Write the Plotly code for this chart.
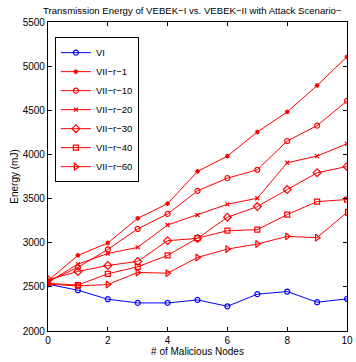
import plotly.graph_objects as go

nodes = [0, 1, 2, 3, 4, 5, 6, 7, 8, 9, 10]

vi = [2530, 2462, 2360, 2318, 2318, 2352, 2280, 2417, 2447, 2326, 2364]
vii_r1 = [2570, 2856, 2997, 3276, 3443, 3807, 3981, 4254, 4481, 4781, 5106]
vii_r10 = [2560, 2720, 2924, 3156, 3326, 3587, 3731, 3826, 4152, 4326, 4606]
vii_r20 = [2550, 2758, 2878, 2947, 3201, 3314, 3435, 3504, 3906, 3981, 4121]
vii_r30 = [2580, 2674, 2742, 2788, 3023, 3049, 3288, 3409, 3602, 3792, 3864]
vii_r40 = [2540, 2520, 2648, 2727, 2856, 3052, 3136, 3148, 3318, 3466, 3489]
vii_r60 = [2530, 2511, 2526, 2663, 2655, 2833, 2928, 2985, 3072, 3057, 3344]

series = [
    ("VI", vi, "#0000ff", "circle-open", 5),
    ("VII\u2212r\u22121", vii_r1, "#ff0000", "asterisk-open", 4),
    ("VII\u2212r\u221210", vii_r10, "#ff0000", "circle-open", 5),
    ("VII\u2212r\u221220", vii_r20, "#ff0000", "x-thin-open", 4),
    ("VII\u2212r\u221230", vii_r30, "#ff0000", "diamond-open", 6),
    ("VII\u2212r\u221240", vii_r40, "#ff0000", "square-open", 5),
    ("VII\u2212r\u221260", vii_r60, "#ff0000", "triangle-right-open", 6),
]

font = "Liberation Sans, Arial, Helvetica, sans-serif"

fig = go.Figure()
for name, vals, color, sym, size in series:
    fig.add_trace(go.Scatter(
        x=nodes, y=vals, name=name, mode="lines+markers",
        line=dict(color=color, width=1),
        marker=dict(symbol=sym, size=size, color=color,
                    line=dict(color=color, width=1.2)),
    ))

axis_common = dict(
    showline=True, linecolor="black", linewidth=1.2, mirror="ticks",
    ticks="inside", ticklen=4, tickcolor="black", showgrid=False,
    zeroline=False, ticklabeloverflow="allow",
    tickfont=dict(family=font, size=10, color="black"),
)

fig.update_layout(
    width=356, height=362,
    margin=dict(l=48, r=3, t=22, b=31),
    paper_bgcolor="white", plot_bgcolor="white",
    font=dict(family=font, size=10, color="black"),
    title=dict(
        text="Transmission Energy of VEBEK\u2212I vs. VEBEK\u2212II with Attack Scenario\u2212",
        x=43 / 356, xanchor="left", xref="container",
        y=1 - 11 / 362, yanchor="middle", yref="container",
        font=dict(family=font, size=9.6, color="black"),
    ),
    xaxis=dict(range=[0, 10], tickvals=[0, 2, 4, 6, 8, 10],
               title=dict(text="# of Malicious Nodes", standoff=2,
                          font=dict(family=font, size=10)),
               **axis_common),
    yaxis=dict(range=[2000, 5500], tickvals=list(range(2000, 5501, 500)),
               title=dict(text="Energy (mJ)", standoff=2,
                          font=dict(family=font, size=10)),
               **axis_common),
    legend=dict(
        x=0.023, y=0.951, xanchor="left", yanchor="top",
        bgcolor="white", bordercolor="black", borderwidth=1,
        font=dict(family=font, size=9.5), tracegroupgap=0,
        itemwidth=30,
    ),
    showlegend=True,
)

fig.write_html("out.html")
